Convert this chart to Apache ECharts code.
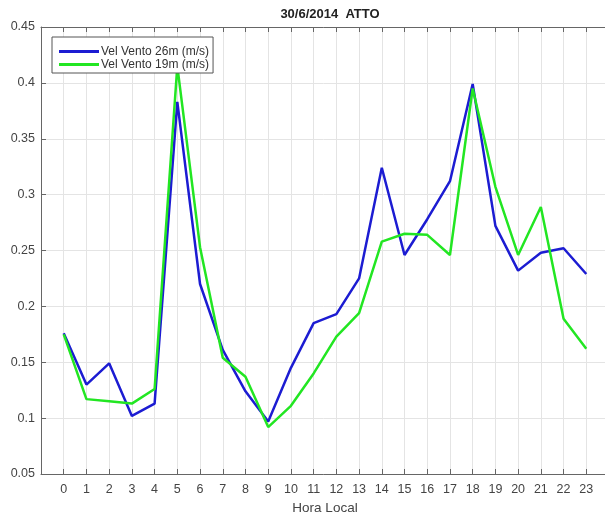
<!DOCTYPE html>
<html>
<head>
<meta charset="utf-8">
<script src="https://cdn.jsdelivr.net/npm/echarts@6/dist/echarts.min.js"></script>
<style>html,body{margin:0;padding:0;background:#fff;}#c{width:605px;height:516px;}</style>
</head>
<body>
<div id="c"></div>
<script>
const hours = [0,1,2,3,4,5,6,7,8,9,10,11,12,13,14,15,16,17,18,19,20,21,22,23];
const vel26 = [0.176,0.130,0.149,0.102,0.113,0.383,0.220,0.161,0.124,0.097,0.145,0.185,0.193,0.225,0.324,0.246,0.278,0.312,0.399,0.272,0.232,0.248,0.252,0.229];
const vel19 = [0.175,0.117,0.115,0.113,0.126,0.415,0.253,0.154,0.137,0.092,0.111,0.140,0.173,0.194,0.258,0.265,0.264,0.246,0.395,0.307,0.246,0.289,0.189,0.162];
const seriesNames = ['Vel Vento 26m (m/s)','Vel Vento 19m (m/s)'];
const titleText = '30/6/2014  ATTO';
const xName = 'Hora Local';

const chart = echarts.init(document.getElementById('c'));
const font = 'Liberation Sans, Arial, sans-serif';
const axisCol = '#666';
const gridCol = '#e4e4e4';
chart.setOption({
  animation:false,
  backgroundColor:'#fff',
  title:{text:titleText,left:325,textAlign:'center',top:3,textStyle:{fontFamily:font,fontSize:13,fontWeight:'bold',color:'#222'}},
  grid:{left:41,top:27,right:-4,bottom:42,show:false,outerBoundsMode:'none',containLabel:false},
  legend:{
    left:52,top:37,orient:'vertical',
    data:seriesNames,
    icon:'rect',itemWidth:40,itemHeight:3,itemGap:0,
    padding:[8,4,2,7],
    borderColor:'#555',borderWidth:1,backgroundColor:'#fff',
    textStyle:{fontFamily:font,fontSize:12,color:'#333',padding:[0,0,0,-3],lineHeight:13}
  },
  xAxis:[{
    type:'value',min:-1,max:24,interval:1,
    name:xName,nameLocation:'middle',nameGap:26,
    nameTextStyle:{fontFamily:font,fontSize:13.5,color:'#444'},
    axisLine:{show:true,onZero:false,lineStyle:{color:axisCol,width:1}},
    axisTick:{show:true,inside:true,length:5,lineStyle:{color:axisCol}},
    axisLabel:{fontFamily:font,fontSize:12.5,color:'#444',margin:9,
      formatter:v=>(v<0||v>23)?'':String(v)},
    splitLine:{show:true,lineStyle:{color:gridCol,width:1}}
  },{
    type:'value',position:'top',min:-1,max:24,interval:1,
    axisLine:{show:true,onZero:false,lineStyle:{color:axisCol,width:1}},
    axisTick:{show:true,inside:true,length:5,lineStyle:{color:axisCol}},
    axisLabel:{show:false},splitLine:{show:false}
  }],
  yAxis:{
    type:'value',min:0.05,max:0.45,interval:0.05,
    axisLine:{show:true,onZero:false,lineStyle:{color:axisCol,width:1}},
    axisTick:{show:true,inside:true,length:5,lineStyle:{color:axisCol}},
    axisLabel:{fontFamily:font,fontSize:12.5,color:'#444',margin:6,
      formatter:v=>String(+v.toFixed(2))},
    splitLine:{show:true,lineStyle:{color:gridCol,width:1}}
  },
  series:[
    {name:seriesNames[0],type:'line',data:hours.map((h,i)=>[h,vel26[i]]),
     showSymbol:false,symbol:'none',lineStyle:{color:'#1c1cd2',width:2.5},itemStyle:{color:'#1c1cd2'},z:2},
    {name:seriesNames[1],type:'line',data:hours.map((h,i)=>[h,vel19[i]]),
     showSymbol:false,symbol:'none',lineStyle:{color:'#22e622',width:2.5},itemStyle:{color:'#22e622'},z:3}
  ]
});
</script>
</body>
</html>
